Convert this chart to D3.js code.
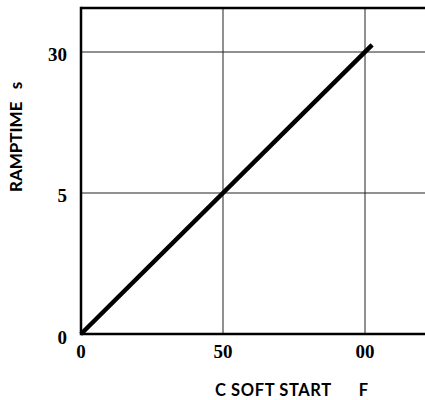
<!DOCTYPE html>
<html>
<head>
<meta charset="utf-8">
<script src="https://cdn.jsdelivr.net/npm/d3@7"></script>
<style>
  body { margin: 0; background: white; }
</style>
</head>
<body>
<div id="chart"></div>
<script>
// data
let capValues = [0, 102.5];          // C soft start
let rampValues = [0, 10.25];         // ramp time
let xTickValues = [0, 50, 100];
let xTickLabels = ["0", "50", "00"];
let yTickValues = [0, 5, 10];
let yTickLabels = ["0", "5", "30"];

let width = 425, height = 400;
let plotLeft = 81, plotTop = 8, plotBottom = 334;

let svg = d3.select("#chart").append("svg")
    .attr("width", width)
    .attr("height", height)
    .style("background-color", "white");

let x = d3.scaleLinear().domain([0, 50]).range([plotLeft, 223]);
let y = d3.scaleLinear().domain([0, 5]).range([plotBottom, 193]);

// grid
svg.selectAll(".vgrid").data(xTickValues.slice(1)).enter().append("line")
    .attr("class", "vgrid")
    .attr("x1", d => x(d)).attr("x2", d => x(d))
    .attr("y1", plotTop).attr("y2", plotBottom)
    .attr("stroke", "#222").attr("stroke-width", 1);

svg.selectAll(".hgrid").data(yTickValues.slice(1)).enter().append("line")
    .attr("class", "hgrid")
    .attr("x1", plotLeft).attr("x2", width)
    .attr("y1", d => y(d)).attr("y2", d => y(d))
    .attr("stroke", "#222").attr("stroke-width", 1);

// frame: top, left, bottom
svg.append("line").attr("x1", plotLeft).attr("x2", width).attr("y1", plotTop).attr("y2", plotTop)
    .attr("stroke", "black").attr("stroke-width", 2.5);
svg.append("line").attr("x1", plotLeft).attr("x2", plotLeft).attr("y1", plotTop - 1.25).attr("y2", plotBottom + 1.25)
    .attr("stroke", "black").attr("stroke-width", 2.5);
svg.append("line").attr("x1", plotLeft).attr("x2", width).attr("y1", plotBottom).attr("y2", plotBottom)
    .attr("stroke", "black").attr("stroke-width", 2.5);

// the ramp line
let pts = capValues.map((c, i) => [c, rampValues[i]]);
svg.append("path")
    .datum(pts)
    .attr("d", d3.line().x(d => x(d[0])).y(d => y(d[1])))
    .attr("fill", "none")
    .attr("stroke", "black")
    .attr("stroke-width", 4.5);

// tick labels
svg.selectAll(".xtick").data(xTickValues).enter().append("text")
    .attr("class", "xtick")
    .attr("x", d => x(d))
    .attr("y", 358)
    .attr("text-anchor", "middle")
    .style("font-family", "'Liberation Serif', serif")
    .style("font-weight", "bold")
    .style("font-size", "19px")
    .text((d, i) => xTickLabels[i]);

svg.selectAll(".ytick").data(yTickValues).enter().append("text")
    .attr("class", "ytick")
    .attr("x", 67)
    .attr("y", d => d === 0 ? y(d) + 10 : y(d) + 9)
    .attr("text-anchor", "end")
    .style("font-family", "'Liberation Serif', serif")
    .style("font-weight", "bold")
    .style("font-size", "19px")
    .text((d, i) => yTickLabels[i]);

// axis titles
svg.append("text")
    .attr("x", 215)
    .attr("y", 396)
    .style("font-family", "Lato, sans-serif")
    .style("font-weight", "bold")
    .style("font-size", "16.5px")
    .style("letter-spacing", "0.6px")
    .attr("xml:space", "preserve")
    .text("C SOFT START      F");

svg.append("text")
    .attr("transform", "translate(22,192) rotate(-90)")
    .style("font-family", "Lato, sans-serif")
    .style("font-weight", "bold")
    .style("font-size", "17px")
    .attr("xml:space", "preserve")
    .text("RAMPTIME   s");
</script>
</body>
</html>
